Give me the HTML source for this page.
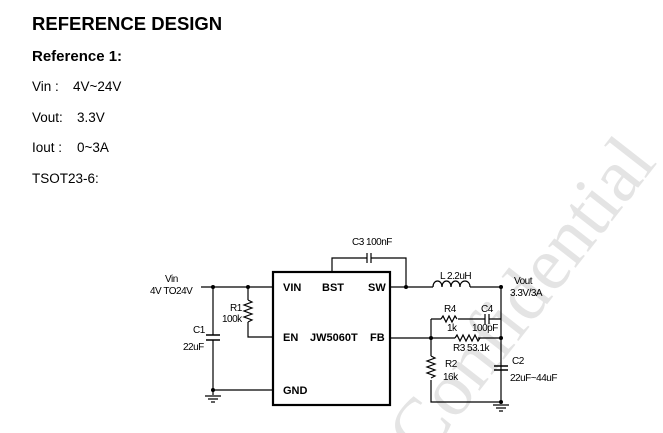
<!DOCTYPE html>
<html><head><meta charset="utf-8"><style>
html,body{margin:0;padding:0;background:#fff;width:663px;height:433px;overflow:hidden}
svg{display:block}
text{font-family:"Liberation Sans",Arial,sans-serif;fill:#000}
</style></head><body>
<svg width="663" height="433" viewBox="0 0 663 433" xmlns="http://www.w3.org/2000/svg" overflow="hidden">
<text x="525" y="320" transform="rotate(-52 525 300)" style="font-family:'Liberation Serif',serif;fill:#e4e4e4" font-size="76" text-anchor="middle">Confidential</text>
<text x="32" y="30" font-size="18.5" font-weight="bold">REFERENCE DESIGN</text>
<text x="32" y="61" font-size="15" font-weight="bold">Reference 1:</text>
<text x="32" y="91" font-size="13.5">Vin :</text><text x="73" y="91" font-size="13.5">4V~24V</text>
<text x="32" y="122" font-size="13.5">Vout:</text><text x="77" y="122" font-size="13.5">3.3V</text>
<text x="32" y="152" font-size="13.5">Iout :</text><text x="77" y="152" font-size="13.5">0~3A</text>
<text x="32" y="183" font-size="13.5">TSOT23-6:</text>
<g stroke="#000" stroke-width="1.2" fill="none">
<rect x="273" y="272" width="117" height="133" stroke-width="2.2"/>
<path d="M201 287H273M213 287V335M213 340V395M213 390H273M248 287V300M248 322V337H273"/>
<path d="M248 300l4 2l-8 3l8 3l-8 3l8 3l-8 3l8 3l-4 2"/>
<path d="M206 335h14M206 340h14" stroke-width="1.6"/>
<path d="M205 396h16M208 399h10M211 402h4"/>
<path d="M332 272V258H367M371 258H406V287M367 253v10M371 253v10"/>
<path d="M390 287H433M470 287H501M501 287V402"/>
<path d="M433 287c0-8 9-8 9 0c0-8 9-8 9 0c0-8 9-8 9 0c0-8 10-8 10 0"/>
<path d="M390 338H455M478 338H501"/>
<path d="M455 338l2-3l3 6l3-6l3 6l3-6l3 6l3-6l3 6l2-3"/>
<path d="M431 319V356M431 319H441M458 319H485M489 319H501M485 314v10M489 314v10"/>
<path d="M441 319l2-3l3 6l3-6l3 6l3-6l2 3"/>
<path d="M431 356l4 2l-8 3l8 3l-8 3l8 3l-8 3l8 3l-4 2"/>
<path d="M431 380V402H501"/>
<path d="M494 366h14M494 370h14" stroke-width="1.6"/>
<path d="M493 405h16M496 408h10M499 411h4"/>
</g>
<g fill="#000">
<circle cx="213" cy="287" r="2"/><circle cx="248" cy="287" r="2"/><circle cx="213" cy="390" r="2"/>
<circle cx="406" cy="287" r="2"/><circle cx="501" cy="287" r="2"/><circle cx="431" cy="338" r="2"/>
<circle cx="501" cy="338" r="2"/><circle cx="501" cy="402" r="2"/>
</g>
<g font-size="10" letter-spacing="-0.5">
<text x="165" y="282">Vin</text>
<text x="150" y="294">4V TO24V</text>
<text x="230" y="311">R1</text><text x="222" y="322">100k</text>
<text x="193" y="333">C1</text><text x="183" y="350">22uF</text>
<text x="352" y="245">C3 100nF</text>
<text x="440" y="279">L  2.2uH</text>
<text x="514" y="284">Vout</text><text x="510" y="296">3.3V/3A</text>
<text x="444" y="312">R4</text><text x="447" y="331">1k</text>
<text x="481" y="312">C4</text><text x="472" y="331">100pF</text>
<text x="453" y="351">R3 53.1k</text>
<text x="445" y="367">R2</text><text x="443" y="380">16k</text>
<text x="512" y="364">C2</text><text x="510" y="381">22uF~44uF</text>
</g>
<g font-size="11" font-weight="bold">
<text x="283" y="291">VIN</text><text x="322" y="291">BST</text><text x="368" y="291">SW</text>
<text x="283" y="341">EN</text><text x="310" y="341">JW5060T</text><text x="370" y="341">FB</text>
<text x="283" y="394">GND</text>
</g>
</svg>
</body></html>
